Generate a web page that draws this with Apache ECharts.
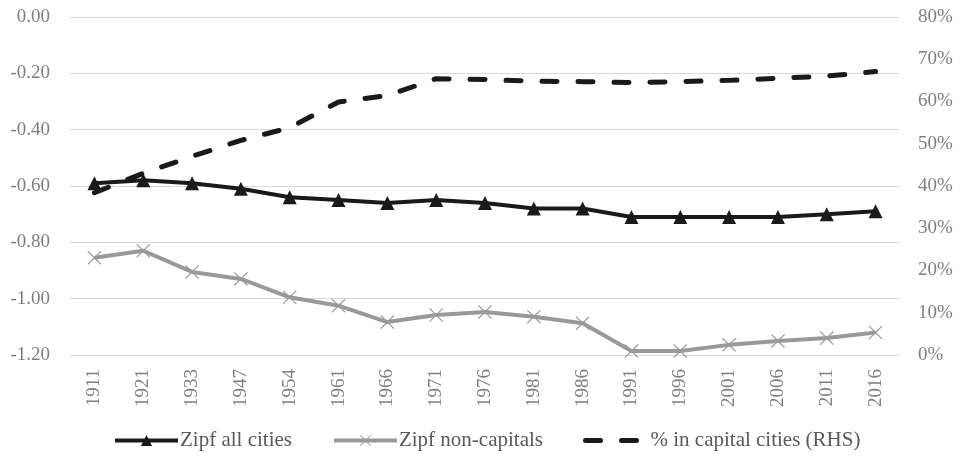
<!DOCTYPE html>
<html>
<head>
<meta charset="utf-8">
<script src="https://cdn.jsdelivr.net/npm/echarts@6/dist/echarts.min.js"></script>
<style>
  html, body { margin: 0; padding: 0; background: #fff; }
  #chart { width: 962px; height: 459px; }
</style>
</head>
<body>
<div id="chart"></div>
<script>
var myChart = echarts.init(document.getElementById('chart'));

// years on the x axis
var years = ['1911', '1921', '1933', '1947', '1954', '1961', '1966', '1971', '1976',
             '1981', '1986', '1991', '1996', '2001', '2006', '2011', '2016'];
// Zipf coefficient, all cities (LHS)
var zipfAll = [-0.59, -0.58, -0.59, -0.61, -0.64, -0.65, -0.66, -0.65, -0.66,
               -0.68, -0.68, -0.71, -0.71, -0.71, -0.71, -0.70, -0.69];
// Zipf coefficient, non-capital cities (LHS)
var zipfNonCap = [-0.855, -0.83, -0.905, -0.93, -0.995, -1.025, -1.083, -1.058, -1.047,
                  -1.064, -1.087, -1.186, -1.186, -1.164, -1.15, -1.14, -1.12];
// share of population in capital cities, % (RHS)
var capitalShare = [38.4, 43.0, 47.0, 50.8, 53.8, 59.9, 61.4, 65.4, 65.2,
                    64.8, 64.7, 64.5, 64.7, 65.0, 65.5, 66.0, 67.1];

var fontFam = '"Liberation Serif", serif';
var crossPath = 'path://M0,0.6 L0.6,0 L5,4.4 L9.4,0 L10,0.6 L5.6,5 L10,9.4 L9.4,10 L5,5.6 L0.6,10 L0,9.4 L4.4,5 Z';

var option = {
    backgroundColor: '#fff',
    animation: false,
    grid: {
        left: 70,
        right: 62,
        top: 17,
        bottom: 104
    },
    legend: {
        left: 108,
        top: 425,
        itemWidth: 63,
        itemHeight: 14,
        itemGap: 40,
        textStyle: { fontFamily: fontFam, fontSize: 21, color: '#595959', padding: [0, 0, 0, -3] },
        data: [
            { name: 'Zipf all cities', lineStyle: { width: 4 } },
            { name: 'Zipf non-capitals', lineStyle: { width: 4 } },
            { name: '% in capital cities (RHS)', lineStyle: { width: 5 }, itemStyle: { opacity: 0 } }
        ]
    },
    xAxis: {
        type: 'category',
        data: years,
        boundaryGap: true,
        axisLine: { show: false },
        axisTick: { show: false },
        axisLabel: {
            rotate: 90,
            margin: 14,
            fontFamily: fontFam,
            fontSize: 19,
            color: '#7f7f7f'
        }
    },
    yAxis: [{
        type: 'value',
        min: -1.2,
        max: 0,
        interval: 0.2,
        axisLine: { show: false },
        axisTick: { show: false },
        splitLine: { lineStyle: { color: '#d9d9d9', width: 1 } },
        axisLabel: {
            margin: 20,
            fontFamily: fontFam,
            fontSize: 19,
            color: '#7f7f7f',
            formatter: function (v) { return v.toFixed(2); }
        }
    }, {
        type: 'value',
        min: 0,
        max: 80,
        interval: 10,
        axisLine: { show: false },
        axisTick: { show: false },
        splitLine: { show: false },
        axisLabel: {
            margin: 18,
            fontFamily: fontFam,
            fontSize: 19,
            color: '#7f7f7f',
            formatter: '{value}%'
        }
    }],
    series: [{
        name: 'Zipf all cities',
        type: 'line',
        data: zipfAll,
        yAxisIndex: 0,
        symbol: 'triangle',
        symbolSize: 14,
        itemStyle: { color: '#1a1a1a' },
        lineStyle: { color: '#1a1a1a', width: 4 },
        z: 3
    }, {
        name: 'Zipf non-capitals',
        type: 'line',
        data: zipfNonCap,
        yAxisIndex: 0,
        symbol: crossPath,
        symbolSize: 14,
        itemStyle: { color: '#999999' },
        lineStyle: { color: '#999999', width: 4 },
        z: 2
    }, {
        name: '% in capital cities (RHS)',
        type: 'line',
        data: capitalShare,
        yAxisIndex: 1,
        symbol: 'none',
        itemStyle: { color: '#1a1a1a' },
        lineStyle: { color: '#1a1a1a', width: 5, type: [15, 21], cap: 'round' },
        z: 4
    }]
};

myChart.setOption(option);
</script>
</body>
</html>
